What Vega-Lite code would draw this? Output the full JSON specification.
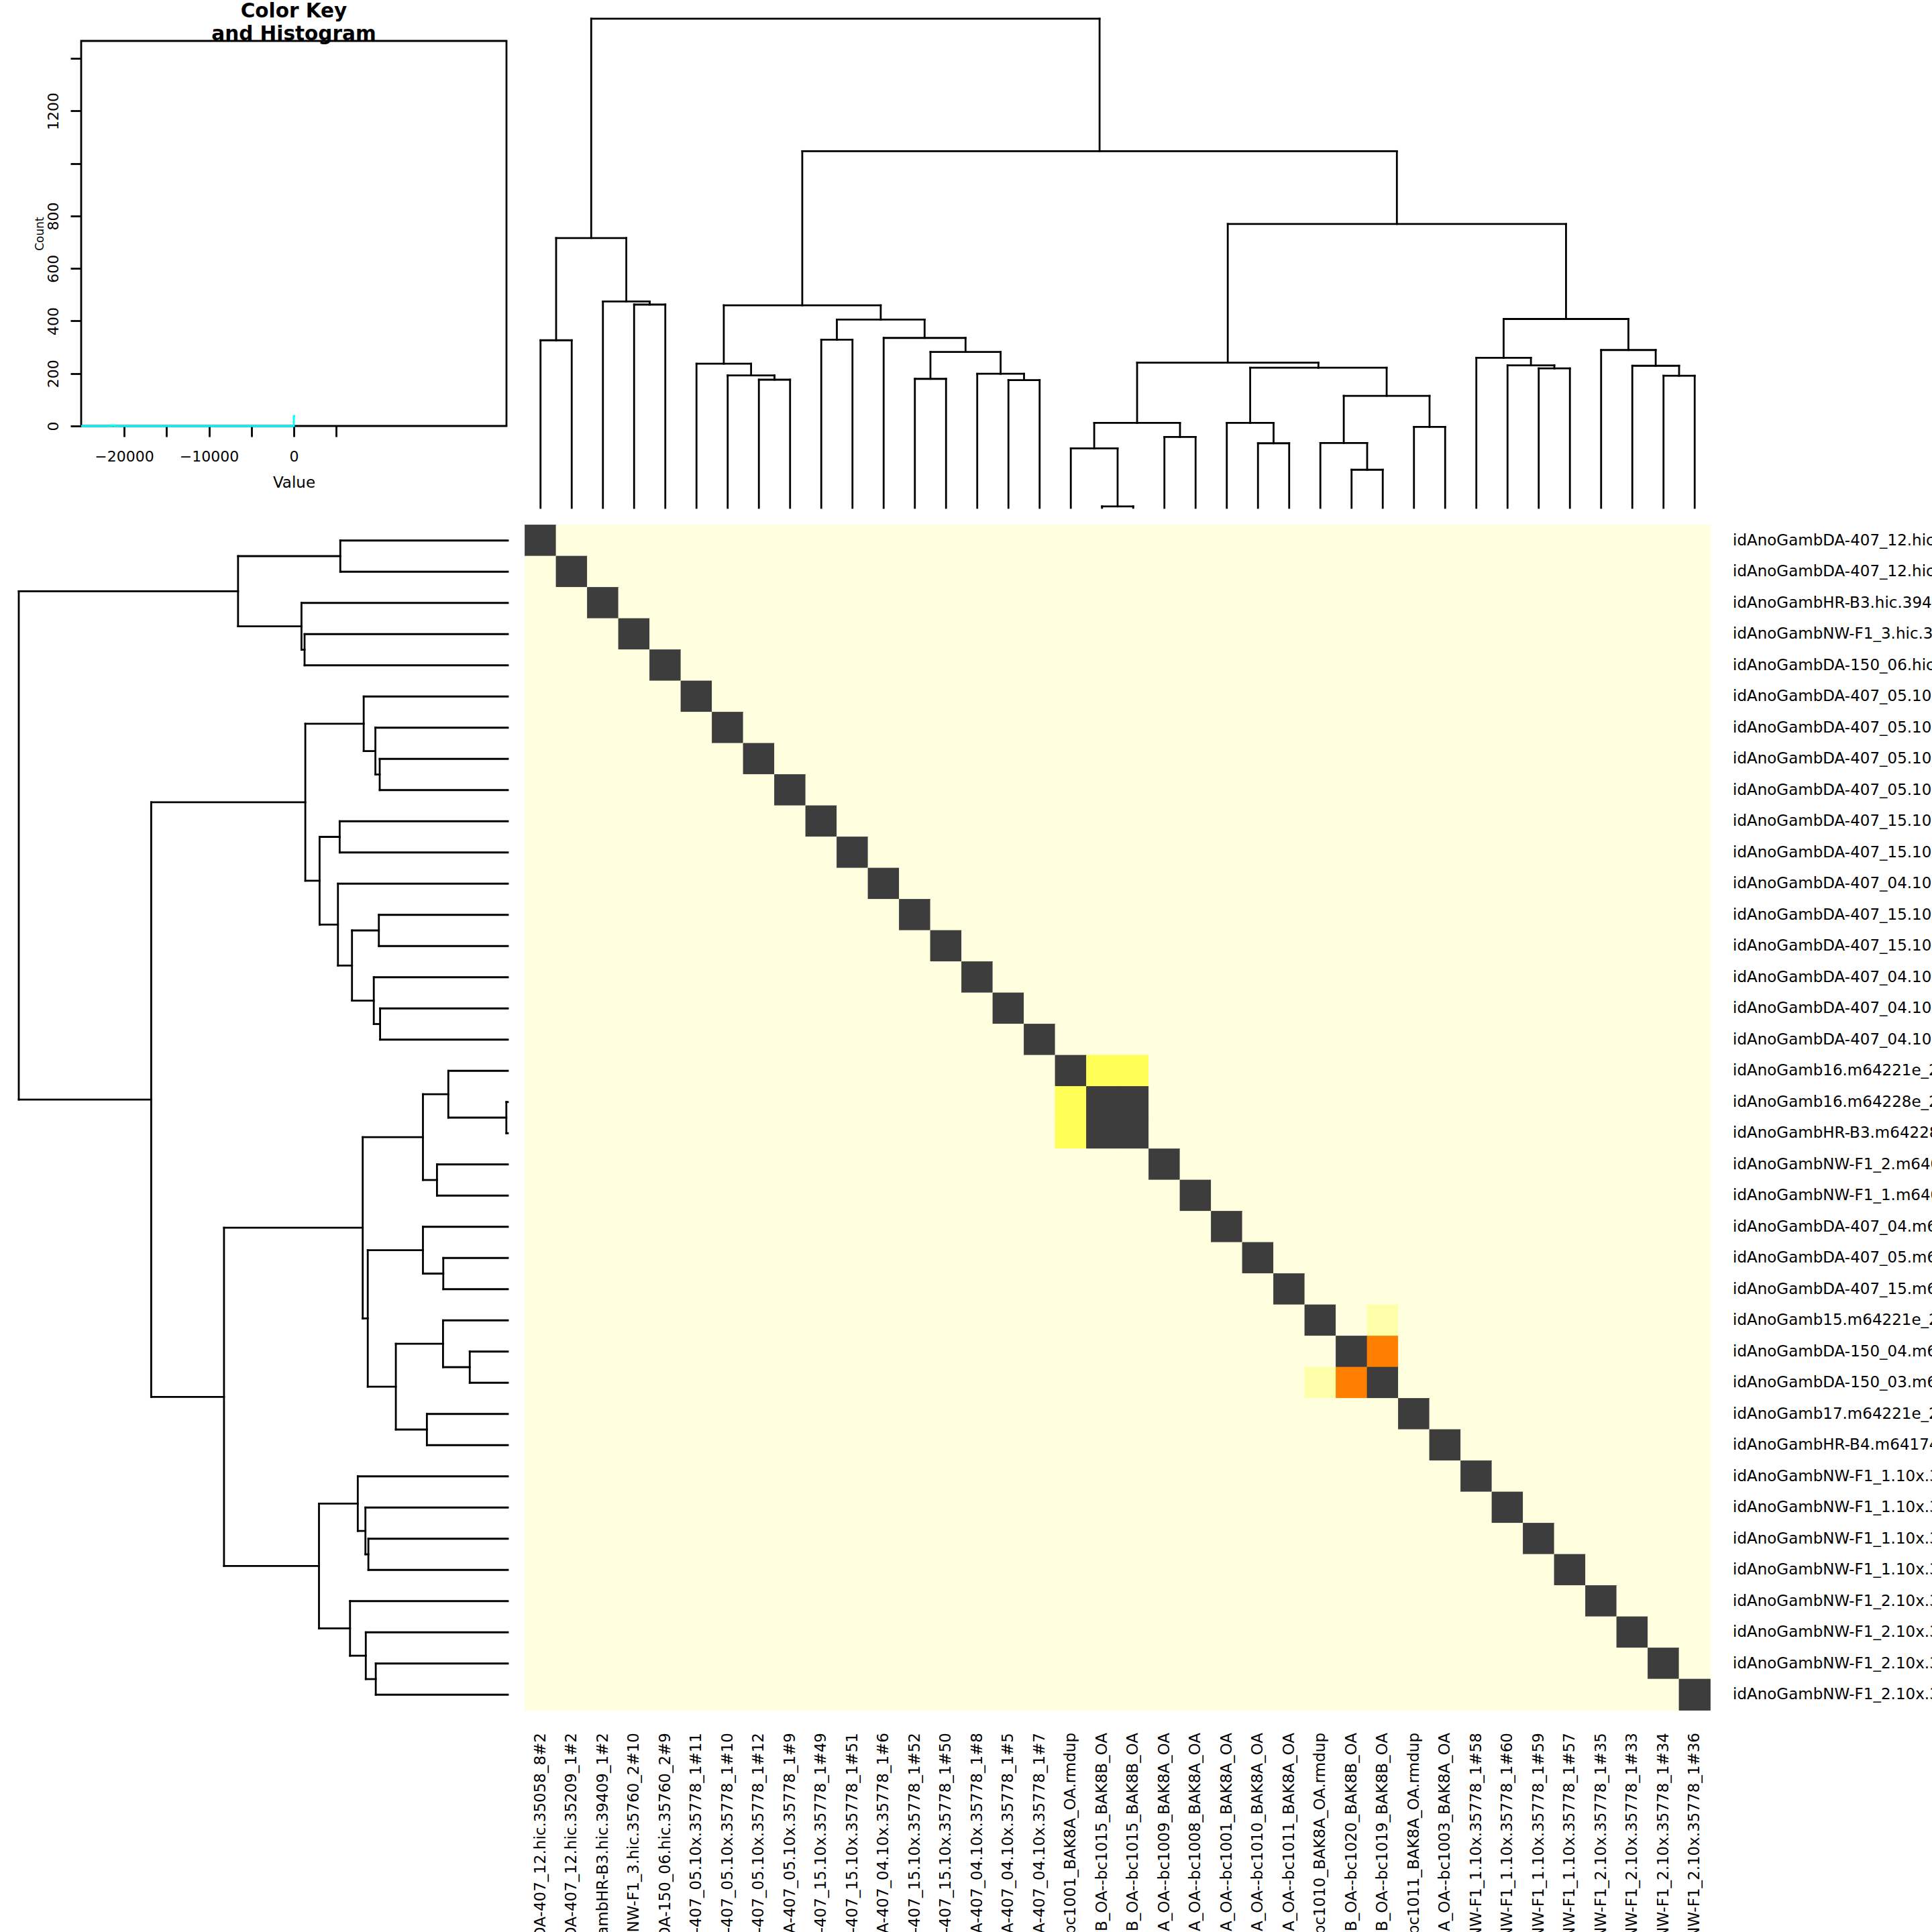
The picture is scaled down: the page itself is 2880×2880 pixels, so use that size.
{
"$schema":"https://vega.github.io/schema/vega-lite/v6.json",
"background":"white",
"padding":{"left":26,"top":0,"right":0,"bottom":0},
"autosize":{"type":"pad"},
"columns":2,
"spacing":{"row":25.5,"column":25.5},
"bounds":"flush",
"align":"each",
"config":{"view":{"stroke":null},"font":"DejaVu Sans","axis":{"labelFont":"DejaVu Sans","titleFont":"DejaVu Sans","labelColor":"black","titleColor":"black","tickColor":"black"},"title":{"font":"DejaVu Sans","color":"black"}},
"datasets":{
"names":[
{"key":"c1","n":1,"name":"idAnoGambDA-407_12.hic.35058_8#2"},
{"key":"c2","n":2,"name":"idAnoGambDA-407_12.hic.35209_1#2"},
{"key":"c3","n":3,"name":"idAnoGambHR-B3.hic.39409_1#2"},
{"key":"c4","n":4,"name":"idAnoGambNW-F1_3.hic.35760_2#10"},
{"key":"c5","n":5,"name":"idAnoGambDA-150_06.hic.35760_2#9"},
{"key":"c6","n":6,"name":"idAnoGambDA-407_05.10x.35778_1#11"},
{"key":"c7","n":7,"name":"idAnoGambDA-407_05.10x.35778_1#10"},
{"key":"c8","n":8,"name":"idAnoGambDA-407_05.10x.35778_1#12"},
{"key":"c9","n":9,"name":"idAnoGambDA-407_05.10x.35778_1#9"},
{"key":"c10","n":10,"name":"idAnoGambDA-407_15.10x.35778_1#49"},
{"key":"c11","n":11,"name":"idAnoGambDA-407_15.10x.35778_1#51"},
{"key":"c12","n":12,"name":"idAnoGambDA-407_04.10x.35778_1#6"},
{"key":"c13","n":13,"name":"idAnoGambDA-407_15.10x.35778_1#52"},
{"key":"c14","n":14,"name":"idAnoGambDA-407_15.10x.35778_1#50"},
{"key":"c15","n":15,"name":"idAnoGambDA-407_04.10x.35778_1#8"},
{"key":"c16","n":16,"name":"idAnoGambDA-407_04.10x.35778_1#5"},
{"key":"c17","n":17,"name":"idAnoGambDA-407_04.10x.35778_1#7"},
{"key":"c18","n":18,"name":"idAnoGamb16.m64221e_220508_094517.bc1001_BAK8A_OA.rmdup"},
{"key":"c19","n":19,"name":"idAnoGamb16.m64228e_220612_083415.bc1015_BAK8B_OA--bc1015_BAK8B_OA"},
{"key":"c20","n":20,"name":"idAnoGambHR-B3.m64228e_220612_083415.bc1015_BAK8B_OA--bc1015_BAK8B_OA"},
{"key":"c21","n":21,"name":"idAnoGambNW-F1_2.m64089e_220301_101010.bc1009_BAK8A_OA--bc1009_BAK8A_OA"},
{"key":"c22","n":22,"name":"idAnoGambNW-F1_1.m64089e_220301_101010.bc1008_BAK8A_OA--bc1008_BAK8A_OA"},
{"key":"c23","n":23,"name":"idAnoGambDA-407_04.m64221e_211223_174129.bc1001_BAK8A_OA--bc1001_BAK8A_OA"},
{"key":"c24","n":24,"name":"idAnoGambDA-407_05.m64221e_211223_174129.bc1010_BAK8A_OA--bc1010_BAK8A_OA"},
{"key":"c25","n":25,"name":"idAnoGambDA-407_15.m64221e_211223_174129.bc1011_BAK8A_OA--bc1011_BAK8A_OA"},
{"key":"c26","n":26,"name":"idAnoGamb15.m64221e_220508_094517.bc1010_BAK8A_OA.rmdup"},
{"key":"c27","n":27,"name":"idAnoGambDA-150_04.m64228e_220612_083415.bc1020_BAK8B_OA--bc1020_BAK8B_OA"},
{"key":"c28","n":28,"name":"idAnoGambDA-150_03.m64228e_220612_083415.bc1019_BAK8B_OA--bc1019_BAK8B_OA"},
{"key":"c29","n":29,"name":"idAnoGamb17.m64221e_220508_094517.bc1011_BAK8A_OA.rmdup"},
{"key":"c30","n":30,"name":"idAnoGambHR-B4.m64174e_220110_112233.bc1003_BAK8A_OA--bc1003_BAK8A_OA"},
{"key":"c31","n":31,"name":"idAnoGambNW-F1_1.10x.35778_1#58"},
{"key":"c32","n":32,"name":"idAnoGambNW-F1_1.10x.35778_1#60"},
{"key":"c33","n":33,"name":"idAnoGambNW-F1_1.10x.35778_1#59"},
{"key":"c34","n":34,"name":"idAnoGambNW-F1_1.10x.35778_1#57"},
{"key":"c35","n":35,"name":"idAnoGambNW-F1_2.10x.35778_1#35"},
{"key":"c36","n":36,"name":"idAnoGambNW-F1_2.10x.35778_1#33"},
{"key":"c37","n":37,"name":"idAnoGambNW-F1_2.10x.35778_1#34"},
{"key":"c38","n":38,"name":"idAnoGambNW-F1_2.10x.35778_1#36"}
],
"matrix":[
{"rk":"c1","c1":"d","c2":"b","c3":"b","c4":"b","c5":"b","c6":"b","c7":"b","c8":"b","c9":"b","c10":"b","c11":"b","c12":"b","c13":"b","c14":"b","c15":"b","c16":"b","c17":"b","c18":"b","c19":"b","c20":"b","c21":"b","c22":"b","c23":"b","c24":"b","c25":"b","c26":"b","c27":"b","c28":"b","c29":"b","c30":"b","c31":"b","c32":"b","c33":"b","c34":"b","c35":"b","c36":"b","c37":"b","c38":"b"},
{"rk":"c2","c1":"b","c2":"d","c3":"b","c4":"b","c5":"b","c6":"b","c7":"b","c8":"b","c9":"b","c10":"b","c11":"b","c12":"b","c13":"b","c14":"b","c15":"b","c16":"b","c17":"b","c18":"b","c19":"b","c20":"b","c21":"b","c22":"b","c23":"b","c24":"b","c25":"b","c26":"b","c27":"b","c28":"b","c29":"b","c30":"b","c31":"b","c32":"b","c33":"b","c34":"b","c35":"b","c36":"b","c37":"b","c38":"b"},
{"rk":"c3","c1":"b","c2":"b","c3":"d","c4":"b","c5":"b","c6":"b","c7":"b","c8":"b","c9":"b","c10":"b","c11":"b","c12":"b","c13":"b","c14":"b","c15":"b","c16":"b","c17":"b","c18":"b","c19":"b","c20":"b","c21":"b","c22":"b","c23":"b","c24":"b","c25":"b","c26":"b","c27":"b","c28":"b","c29":"b","c30":"b","c31":"b","c32":"b","c33":"b","c34":"b","c35":"b","c36":"b","c37":"b","c38":"b"},
{"rk":"c4","c1":"b","c2":"b","c3":"b","c4":"d","c5":"b","c6":"b","c7":"b","c8":"b","c9":"b","c10":"b","c11":"b","c12":"b","c13":"b","c14":"b","c15":"b","c16":"b","c17":"b","c18":"b","c19":"b","c20":"b","c21":"b","c22":"b","c23":"b","c24":"b","c25":"b","c26":"b","c27":"b","c28":"b","c29":"b","c30":"b","c31":"b","c32":"b","c33":"b","c34":"b","c35":"b","c36":"b","c37":"b","c38":"b"},
{"rk":"c5","c1":"b","c2":"b","c3":"b","c4":"b","c5":"d","c6":"b","c7":"b","c8":"b","c9":"b","c10":"b","c11":"b","c12":"b","c13":"b","c14":"b","c15":"b","c16":"b","c17":"b","c18":"b","c19":"b","c20":"b","c21":"b","c22":"b","c23":"b","c24":"b","c25":"b","c26":"b","c27":"b","c28":"b","c29":"b","c30":"b","c31":"b","c32":"b","c33":"b","c34":"b","c35":"b","c36":"b","c37":"b","c38":"b"},
{"rk":"c6","c1":"b","c2":"b","c3":"b","c4":"b","c5":"b","c6":"d","c7":"b","c8":"b","c9":"b","c10":"b","c11":"b","c12":"b","c13":"b","c14":"b","c15":"b","c16":"b","c17":"b","c18":"b","c19":"b","c20":"b","c21":"b","c22":"b","c23":"b","c24":"b","c25":"b","c26":"b","c27":"b","c28":"b","c29":"b","c30":"b","c31":"b","c32":"b","c33":"b","c34":"b","c35":"b","c36":"b","c37":"b","c38":"b"},
{"rk":"c7","c1":"b","c2":"b","c3":"b","c4":"b","c5":"b","c6":"b","c7":"d","c8":"b","c9":"b","c10":"b","c11":"b","c12":"b","c13":"b","c14":"b","c15":"b","c16":"b","c17":"b","c18":"b","c19":"b","c20":"b","c21":"b","c22":"b","c23":"b","c24":"b","c25":"b","c26":"b","c27":"b","c28":"b","c29":"b","c30":"b","c31":"b","c32":"b","c33":"b","c34":"b","c35":"b","c36":"b","c37":"b","c38":"b"},
{"rk":"c8","c1":"b","c2":"b","c3":"b","c4":"b","c5":"b","c6":"b","c7":"b","c8":"d","c9":"b","c10":"b","c11":"b","c12":"b","c13":"b","c14":"b","c15":"b","c16":"b","c17":"b","c18":"b","c19":"b","c20":"b","c21":"b","c22":"b","c23":"b","c24":"b","c25":"b","c26":"b","c27":"b","c28":"b","c29":"b","c30":"b","c31":"b","c32":"b","c33":"b","c34":"b","c35":"b","c36":"b","c37":"b","c38":"b"},
{"rk":"c9","c1":"b","c2":"b","c3":"b","c4":"b","c5":"b","c6":"b","c7":"b","c8":"b","c9":"d","c10":"b","c11":"b","c12":"b","c13":"b","c14":"b","c15":"b","c16":"b","c17":"b","c18":"b","c19":"b","c20":"b","c21":"b","c22":"b","c23":"b","c24":"b","c25":"b","c26":"b","c27":"b","c28":"b","c29":"b","c30":"b","c31":"b","c32":"b","c33":"b","c34":"b","c35":"b","c36":"b","c37":"b","c38":"b"},
{"rk":"c10","c1":"b","c2":"b","c3":"b","c4":"b","c5":"b","c6":"b","c7":"b","c8":"b","c9":"b","c10":"d","c11":"b","c12":"b","c13":"b","c14":"b","c15":"b","c16":"b","c17":"b","c18":"b","c19":"b","c20":"b","c21":"b","c22":"b","c23":"b","c24":"b","c25":"b","c26":"b","c27":"b","c28":"b","c29":"b","c30":"b","c31":"b","c32":"b","c33":"b","c34":"b","c35":"b","c36":"b","c37":"b","c38":"b"},
{"rk":"c11","c1":"b","c2":"b","c3":"b","c4":"b","c5":"b","c6":"b","c7":"b","c8":"b","c9":"b","c10":"b","c11":"d","c12":"b","c13":"b","c14":"b","c15":"b","c16":"b","c17":"b","c18":"b","c19":"b","c20":"b","c21":"b","c22":"b","c23":"b","c24":"b","c25":"b","c26":"b","c27":"b","c28":"b","c29":"b","c30":"b","c31":"b","c32":"b","c33":"b","c34":"b","c35":"b","c36":"b","c37":"b","c38":"b"},
{"rk":"c12","c1":"b","c2":"b","c3":"b","c4":"b","c5":"b","c6":"b","c7":"b","c8":"b","c9":"b","c10":"b","c11":"b","c12":"d","c13":"b","c14":"b","c15":"b","c16":"b","c17":"b","c18":"b","c19":"b","c20":"b","c21":"b","c22":"b","c23":"b","c24":"b","c25":"b","c26":"b","c27":"b","c28":"b","c29":"b","c30":"b","c31":"b","c32":"b","c33":"b","c34":"b","c35":"b","c36":"b","c37":"b","c38":"b"},
{"rk":"c13","c1":"b","c2":"b","c3":"b","c4":"b","c5":"b","c6":"b","c7":"b","c8":"b","c9":"b","c10":"b","c11":"b","c12":"b","c13":"d","c14":"b","c15":"b","c16":"b","c17":"b","c18":"b","c19":"b","c20":"b","c21":"b","c22":"b","c23":"b","c24":"b","c25":"b","c26":"b","c27":"b","c28":"b","c29":"b","c30":"b","c31":"b","c32":"b","c33":"b","c34":"b","c35":"b","c36":"b","c37":"b","c38":"b"},
{"rk":"c14","c1":"b","c2":"b","c3":"b","c4":"b","c5":"b","c6":"b","c7":"b","c8":"b","c9":"b","c10":"b","c11":"b","c12":"b","c13":"b","c14":"d","c15":"b","c16":"b","c17":"b","c18":"b","c19":"b","c20":"b","c21":"b","c22":"b","c23":"b","c24":"b","c25":"b","c26":"b","c27":"b","c28":"b","c29":"b","c30":"b","c31":"b","c32":"b","c33":"b","c34":"b","c35":"b","c36":"b","c37":"b","c38":"b"},
{"rk":"c15","c1":"b","c2":"b","c3":"b","c4":"b","c5":"b","c6":"b","c7":"b","c8":"b","c9":"b","c10":"b","c11":"b","c12":"b","c13":"b","c14":"b","c15":"d","c16":"b","c17":"b","c18":"b","c19":"b","c20":"b","c21":"b","c22":"b","c23":"b","c24":"b","c25":"b","c26":"b","c27":"b","c28":"b","c29":"b","c30":"b","c31":"b","c32":"b","c33":"b","c34":"b","c35":"b","c36":"b","c37":"b","c38":"b"},
{"rk":"c16","c1":"b","c2":"b","c3":"b","c4":"b","c5":"b","c6":"b","c7":"b","c8":"b","c9":"b","c10":"b","c11":"b","c12":"b","c13":"b","c14":"b","c15":"b","c16":"d","c17":"b","c18":"b","c19":"b","c20":"b","c21":"b","c22":"b","c23":"b","c24":"b","c25":"b","c26":"b","c27":"b","c28":"b","c29":"b","c30":"b","c31":"b","c32":"b","c33":"b","c34":"b","c35":"b","c36":"b","c37":"b","c38":"b"},
{"rk":"c17","c1":"b","c2":"b","c3":"b","c4":"b","c5":"b","c6":"b","c7":"b","c8":"b","c9":"b","c10":"b","c11":"b","c12":"b","c13":"b","c14":"b","c15":"b","c16":"b","c17":"d","c18":"b","c19":"b","c20":"b","c21":"b","c22":"b","c23":"b","c24":"b","c25":"b","c26":"b","c27":"b","c28":"b","c29":"b","c30":"b","c31":"b","c32":"b","c33":"b","c34":"b","c35":"b","c36":"b","c37":"b","c38":"b"},
{"rk":"c18","c1":"b","c2":"b","c3":"b","c4":"b","c5":"b","c6":"b","c7":"b","c8":"b","c9":"b","c10":"b","c11":"b","c12":"b","c13":"b","c14":"b","c15":"b","c16":"b","c17":"b","c18":"d","c19":"y","c20":"y","c21":"b","c22":"b","c23":"b","c24":"b","c25":"b","c26":"b","c27":"b","c28":"b","c29":"b","c30":"b","c31":"b","c32":"b","c33":"b","c34":"b","c35":"b","c36":"b","c37":"b","c38":"b"},
{"rk":"c19","c1":"b","c2":"b","c3":"b","c4":"b","c5":"b","c6":"b","c7":"b","c8":"b","c9":"b","c10":"b","c11":"b","c12":"b","c13":"b","c14":"b","c15":"b","c16":"b","c17":"b","c18":"y","c19":"d","c20":"d","c21":"b","c22":"b","c23":"b","c24":"b","c25":"b","c26":"b","c27":"b","c28":"b","c29":"b","c30":"b","c31":"b","c32":"b","c33":"b","c34":"b","c35":"b","c36":"b","c37":"b","c38":"b"},
{"rk":"c20","c1":"b","c2":"b","c3":"b","c4":"b","c5":"b","c6":"b","c7":"b","c8":"b","c9":"b","c10":"b","c11":"b","c12":"b","c13":"b","c14":"b","c15":"b","c16":"b","c17":"b","c18":"y","c19":"d","c20":"d","c21":"b","c22":"b","c23":"b","c24":"b","c25":"b","c26":"b","c27":"b","c28":"b","c29":"b","c30":"b","c31":"b","c32":"b","c33":"b","c34":"b","c35":"b","c36":"b","c37":"b","c38":"b"},
{"rk":"c21","c1":"b","c2":"b","c3":"b","c4":"b","c5":"b","c6":"b","c7":"b","c8":"b","c9":"b","c10":"b","c11":"b","c12":"b","c13":"b","c14":"b","c15":"b","c16":"b","c17":"b","c18":"b","c19":"b","c20":"b","c21":"d","c22":"b","c23":"b","c24":"b","c25":"b","c26":"b","c27":"b","c28":"b","c29":"b","c30":"b","c31":"b","c32":"b","c33":"b","c34":"b","c35":"b","c36":"b","c37":"b","c38":"b"},
{"rk":"c22","c1":"b","c2":"b","c3":"b","c4":"b","c5":"b","c6":"b","c7":"b","c8":"b","c9":"b","c10":"b","c11":"b","c12":"b","c13":"b","c14":"b","c15":"b","c16":"b","c17":"b","c18":"b","c19":"b","c20":"b","c21":"b","c22":"d","c23":"b","c24":"b","c25":"b","c26":"b","c27":"b","c28":"b","c29":"b","c30":"b","c31":"b","c32":"b","c33":"b","c34":"b","c35":"b","c36":"b","c37":"b","c38":"b"},
{"rk":"c23","c1":"b","c2":"b","c3":"b","c4":"b","c5":"b","c6":"b","c7":"b","c8":"b","c9":"b","c10":"b","c11":"b","c12":"b","c13":"b","c14":"b","c15":"b","c16":"b","c17":"b","c18":"b","c19":"b","c20":"b","c21":"b","c22":"b","c23":"d","c24":"b","c25":"b","c26":"b","c27":"b","c28":"b","c29":"b","c30":"b","c31":"b","c32":"b","c33":"b","c34":"b","c35":"b","c36":"b","c37":"b","c38":"b"},
{"rk":"c24","c1":"b","c2":"b","c3":"b","c4":"b","c5":"b","c6":"b","c7":"b","c8":"b","c9":"b","c10":"b","c11":"b","c12":"b","c13":"b","c14":"b","c15":"b","c16":"b","c17":"b","c18":"b","c19":"b","c20":"b","c21":"b","c22":"b","c23":"b","c24":"d","c25":"b","c26":"b","c27":"b","c28":"b","c29":"b","c30":"b","c31":"b","c32":"b","c33":"b","c34":"b","c35":"b","c36":"b","c37":"b","c38":"b"},
{"rk":"c25","c1":"b","c2":"b","c3":"b","c4":"b","c5":"b","c6":"b","c7":"b","c8":"b","c9":"b","c10":"b","c11":"b","c12":"b","c13":"b","c14":"b","c15":"b","c16":"b","c17":"b","c18":"b","c19":"b","c20":"b","c21":"b","c22":"b","c23":"b","c24":"b","c25":"d","c26":"b","c27":"b","c28":"b","c29":"b","c30":"b","c31":"b","c32":"b","c33":"b","c34":"b","c35":"b","c36":"b","c37":"b","c38":"b"},
{"rk":"c26","c1":"b","c2":"b","c3":"b","c4":"b","c5":"b","c6":"b","c7":"b","c8":"b","c9":"b","c10":"b","c11":"b","c12":"b","c13":"b","c14":"b","c15":"b","c16":"b","c17":"b","c18":"b","c19":"b","c20":"b","c21":"b","c22":"b","c23":"b","c24":"b","c25":"b","c26":"d","c27":"b","c28":"p","c29":"b","c30":"b","c31":"b","c32":"b","c33":"b","c34":"b","c35":"b","c36":"b","c37":"b","c38":"b"},
{"rk":"c27","c1":"b","c2":"b","c3":"b","c4":"b","c5":"b","c6":"b","c7":"b","c8":"b","c9":"b","c10":"b","c11":"b","c12":"b","c13":"b","c14":"b","c15":"b","c16":"b","c17":"b","c18":"b","c19":"b","c20":"b","c21":"b","c22":"b","c23":"b","c24":"b","c25":"b","c26":"b","c27":"d","c28":"o","c29":"b","c30":"b","c31":"b","c32":"b","c33":"b","c34":"b","c35":"b","c36":"b","c37":"b","c38":"b"},
{"rk":"c28","c1":"b","c2":"b","c3":"b","c4":"b","c5":"b","c6":"b","c7":"b","c8":"b","c9":"b","c10":"b","c11":"b","c12":"b","c13":"b","c14":"b","c15":"b","c16":"b","c17":"b","c18":"b","c19":"b","c20":"b","c21":"b","c22":"b","c23":"b","c24":"b","c25":"b","c26":"p","c27":"o","c28":"d","c29":"b","c30":"b","c31":"b","c32":"b","c33":"b","c34":"b","c35":"b","c36":"b","c37":"b","c38":"b"},
{"rk":"c29","c1":"b","c2":"b","c3":"b","c4":"b","c5":"b","c6":"b","c7":"b","c8":"b","c9":"b","c10":"b","c11":"b","c12":"b","c13":"b","c14":"b","c15":"b","c16":"b","c17":"b","c18":"b","c19":"b","c20":"b","c21":"b","c22":"b","c23":"b","c24":"b","c25":"b","c26":"b","c27":"b","c28":"b","c29":"d","c30":"b","c31":"b","c32":"b","c33":"b","c34":"b","c35":"b","c36":"b","c37":"b","c38":"b"},
{"rk":"c30","c1":"b","c2":"b","c3":"b","c4":"b","c5":"b","c6":"b","c7":"b","c8":"b","c9":"b","c10":"b","c11":"b","c12":"b","c13":"b","c14":"b","c15":"b","c16":"b","c17":"b","c18":"b","c19":"b","c20":"b","c21":"b","c22":"b","c23":"b","c24":"b","c25":"b","c26":"b","c27":"b","c28":"b","c29":"b","c30":"d","c31":"b","c32":"b","c33":"b","c34":"b","c35":"b","c36":"b","c37":"b","c38":"b"},
{"rk":"c31","c1":"b","c2":"b","c3":"b","c4":"b","c5":"b","c6":"b","c7":"b","c8":"b","c9":"b","c10":"b","c11":"b","c12":"b","c13":"b","c14":"b","c15":"b","c16":"b","c17":"b","c18":"b","c19":"b","c20":"b","c21":"b","c22":"b","c23":"b","c24":"b","c25":"b","c26":"b","c27":"b","c28":"b","c29":"b","c30":"b","c31":"d","c32":"b","c33":"b","c34":"b","c35":"b","c36":"b","c37":"b","c38":"b"},
{"rk":"c32","c1":"b","c2":"b","c3":"b","c4":"b","c5":"b","c6":"b","c7":"b","c8":"b","c9":"b","c10":"b","c11":"b","c12":"b","c13":"b","c14":"b","c15":"b","c16":"b","c17":"b","c18":"b","c19":"b","c20":"b","c21":"b","c22":"b","c23":"b","c24":"b","c25":"b","c26":"b","c27":"b","c28":"b","c29":"b","c30":"b","c31":"b","c32":"d","c33":"b","c34":"b","c35":"b","c36":"b","c37":"b","c38":"b"},
{"rk":"c33","c1":"b","c2":"b","c3":"b","c4":"b","c5":"b","c6":"b","c7":"b","c8":"b","c9":"b","c10":"b","c11":"b","c12":"b","c13":"b","c14":"b","c15":"b","c16":"b","c17":"b","c18":"b","c19":"b","c20":"b","c21":"b","c22":"b","c23":"b","c24":"b","c25":"b","c26":"b","c27":"b","c28":"b","c29":"b","c30":"b","c31":"b","c32":"b","c33":"d","c34":"b","c35":"b","c36":"b","c37":"b","c38":"b"},
{"rk":"c34","c1":"b","c2":"b","c3":"b","c4":"b","c5":"b","c6":"b","c7":"b","c8":"b","c9":"b","c10":"b","c11":"b","c12":"b","c13":"b","c14":"b","c15":"b","c16":"b","c17":"b","c18":"b","c19":"b","c20":"b","c21":"b","c22":"b","c23":"b","c24":"b","c25":"b","c26":"b","c27":"b","c28":"b","c29":"b","c30":"b","c31":"b","c32":"b","c33":"b","c34":"d","c35":"b","c36":"b","c37":"b","c38":"b"},
{"rk":"c35","c1":"b","c2":"b","c3":"b","c4":"b","c5":"b","c6":"b","c7":"b","c8":"b","c9":"b","c10":"b","c11":"b","c12":"b","c13":"b","c14":"b","c15":"b","c16":"b","c17":"b","c18":"b","c19":"b","c20":"b","c21":"b","c22":"b","c23":"b","c24":"b","c25":"b","c26":"b","c27":"b","c28":"b","c29":"b","c30":"b","c31":"b","c32":"b","c33":"b","c34":"b","c35":"d","c36":"b","c37":"b","c38":"b"},
{"rk":"c36","c1":"b","c2":"b","c3":"b","c4":"b","c5":"b","c6":"b","c7":"b","c8":"b","c9":"b","c10":"b","c11":"b","c12":"b","c13":"b","c14":"b","c15":"b","c16":"b","c17":"b","c18":"b","c19":"b","c20":"b","c21":"b","c22":"b","c23":"b","c24":"b","c25":"b","c26":"b","c27":"b","c28":"b","c29":"b","c30":"b","c31":"b","c32":"b","c33":"b","c34":"b","c35":"b","c36":"d","c37":"b","c38":"b"},
{"rk":"c37","c1":"b","c2":"b","c3":"b","c4":"b","c5":"b","c6":"b","c7":"b","c8":"b","c9":"b","c10":"b","c11":"b","c12":"b","c13":"b","c14":"b","c15":"b","c16":"b","c17":"b","c18":"b","c19":"b","c20":"b","c21":"b","c22":"b","c23":"b","c24":"b","c25":"b","c26":"b","c27":"b","c28":"b","c29":"b","c30":"b","c31":"b","c32":"b","c33":"b","c34":"b","c35":"b","c36":"b","c37":"d","c38":"b"},
{"rk":"c38","c1":"b","c2":"b","c3":"b","c4":"b","c5":"b","c6":"b","c7":"b","c8":"b","c9":"b","c10":"b","c11":"b","c12":"b","c13":"b","c14":"b","c15":"b","c16":"b","c17":"b","c18":"b","c19":"b","c20":"b","c21":"b","c22":"b","c23":"b","c24":"b","c25":"b","c26":"b","c27":"b","c28":"b","c29":"b","c30":"b","c31":"b","c32":"b","c33":"b","c34":"b","c35":"b","c36":"b","c37":"b","c38":"d"}
],
"dendro":[
{"p1":1,"p2":2,"h1":136,"h2":136},{"p1":1,"p2":1,"h1":0,"h2":136},{"p1":2,"p2":2,"h1":0,"h2":136},
{"p1":4,"p2":5,"h1":165,"h2":165},{"p1":4,"p2":4,"h1":0,"h2":165},{"p1":5,"p2":5,"h1":0,"h2":165},
{"p1":3,"p2":4.5,"h1":167.5,"h2":167.5},{"p1":3,"p2":3,"h1":0,"h2":167.5},{"p1":4.5,"p2":4.5,"h1":165,"h2":167.5},
{"p1":1.5,"p2":3.75,"h1":219,"h2":219},{"p1":1.5,"p2":1.5,"h1":136,"h2":219},{"p1":3.75,"p2":3.75,"h1":167.5,"h2":219},
{"p1":8,"p2":9,"h1":104,"h2":104},{"p1":8,"p2":8,"h1":0,"h2":104},{"p1":9,"p2":9,"h1":0,"h2":104},
{"p1":7,"p2":8.5,"h1":107.5,"h2":107.5},{"p1":7,"p2":7,"h1":0,"h2":107.5},{"p1":8.5,"p2":8.5,"h1":104,"h2":107.5},
{"p1":6,"p2":7.75,"h1":117,"h2":117},{"p1":6,"p2":6,"h1":0,"h2":117},{"p1":7.75,"p2":7.75,"h1":107.5,"h2":117},
{"p1":10,"p2":11,"h1":136.5,"h2":136.5},{"p1":10,"p2":10,"h1":0,"h2":136.5},{"p1":11,"p2":11,"h1":0,"h2":136.5},
{"p1":13,"p2":14,"h1":104.7,"h2":104.7},{"p1":13,"p2":13,"h1":0,"h2":104.7},{"p1":14,"p2":14,"h1":0,"h2":104.7},
{"p1":16,"p2":17,"h1":103.7,"h2":103.7},{"p1":16,"p2":16,"h1":0,"h2":103.7},{"p1":17,"p2":17,"h1":0,"h2":103.7},
{"p1":15,"p2":16.5,"h1":108.8,"h2":108.8},{"p1":15,"p2":15,"h1":0,"h2":108.8},{"p1":16.5,"p2":16.5,"h1":103.7,"h2":108.8},
{"p1":13.5,"p2":15.75,"h1":126.5,"h2":126.5},{"p1":13.5,"p2":13.5,"h1":104.7,"h2":126.5},{"p1":15.75,"p2":15.75,"h1":108.8,"h2":126.5},
{"p1":12,"p2":14.625,"h1":137.9,"h2":137.9},{"p1":12,"p2":12,"h1":0,"h2":137.9},{"p1":14.625,"p2":14.625,"h1":126.5,"h2":137.9},
{"p1":10.5,"p2":13.3125,"h1":152.8,"h2":152.8},{"p1":10.5,"p2":10.5,"h1":136.5,"h2":152.8},{"p1":13.3125,"p2":13.3125,"h1":137.9,"h2":152.8},
{"p1":6.875,"p2":11.90625,"h1":164.4,"h2":164.4},{"p1":6.875,"p2":6.875,"h1":117,"h2":164.4},{"p1":11.90625,"p2":11.90625,"h1":152.8,"h2":164.4},
{"p1":19,"p2":20,"h1":1.2,"h2":1.2},{"p1":19,"p2":19,"h1":0,"h2":1.2},{"p1":20,"p2":20,"h1":0,"h2":1.2},
{"p1":18,"p2":19.5,"h1":48.3,"h2":48.3},{"p1":18,"p2":18,"h1":0,"h2":48.3},{"p1":19.5,"p2":19.5,"h1":1.2,"h2":48.3},
{"p1":21,"p2":22,"h1":57.5,"h2":57.5},{"p1":21,"p2":21,"h1":0,"h2":57.5},{"p1":22,"p2":22,"h1":0,"h2":57.5},
{"p1":18.75,"p2":21.5,"h1":68.9,"h2":68.9},{"p1":18.75,"p2":18.75,"h1":48.3,"h2":68.9},{"p1":21.5,"p2":21.5,"h1":57.5,"h2":68.9},
{"p1":24,"p2":25,"h1":52.4,"h2":52.4},{"p1":24,"p2":24,"h1":0,"h2":52.4},{"p1":25,"p2":25,"h1":0,"h2":52.4},
{"p1":23,"p2":24.5,"h1":68.9,"h2":68.9},{"p1":23,"p2":23,"h1":0,"h2":68.9},{"p1":24.5,"p2":24.5,"h1":52.4,"h2":68.9},
{"p1":27,"p2":28,"h1":30.9,"h2":30.9},{"p1":27,"p2":27,"h1":0,"h2":30.9},{"p1":28,"p2":28,"h1":0,"h2":30.9},
{"p1":26,"p2":27.5,"h1":52.6,"h2":52.6},{"p1":26,"p2":26,"h1":0,"h2":52.6},{"p1":27.5,"p2":27.5,"h1":30.9,"h2":52.6},
{"p1":29,"p2":30,"h1":65.7,"h2":65.7},{"p1":29,"p2":29,"h1":0,"h2":65.7},{"p1":30,"p2":30,"h1":0,"h2":65.7},
{"p1":26.75,"p2":29.5,"h1":90.9,"h2":90.9},{"p1":26.75,"p2":26.75,"h1":52.6,"h2":90.9},{"p1":29.5,"p2":29.5,"h1":65.7,"h2":90.9},
{"p1":23.75,"p2":28.125,"h1":113.7,"h2":113.7},{"p1":23.75,"p2":23.75,"h1":68.9,"h2":113.7},{"p1":28.125,"p2":28.125,"h1":90.9,"h2":113.7},
{"p1":20.125,"p2":25.9375,"h1":117.8,"h2":117.8},{"p1":20.125,"p2":20.125,"h1":68.9,"h2":117.8},{"p1":25.9375,"p2":25.9375,"h1":113.7,"h2":117.8},
{"p1":33,"p2":34,"h1":113.2,"h2":113.2},{"p1":33,"p2":33,"h1":0,"h2":113.2},{"p1":34,"p2":34,"h1":0,"h2":113.2},
{"p1":32,"p2":33.5,"h1":115.6,"h2":115.6},{"p1":32,"p2":32,"h1":0,"h2":115.6},{"p1":33.5,"p2":33.5,"h1":113.2,"h2":115.6},
{"p1":31,"p2":32.75,"h1":121.8,"h2":121.8},{"p1":31,"p2":31,"h1":0,"h2":121.8},{"p1":32.75,"p2":32.75,"h1":115.6,"h2":121.8},
{"p1":37,"p2":38,"h1":107.2,"h2":107.2},{"p1":37,"p2":37,"h1":0,"h2":107.2},{"p1":38,"p2":38,"h1":0,"h2":107.2},
{"p1":36,"p2":37.5,"h1":115.3,"h2":115.3},{"p1":36,"p2":36,"h1":0,"h2":115.3},{"p1":37.5,"p2":37.5,"h1":107.2,"h2":115.3},
{"p1":35,"p2":36.75,"h1":128.1,"h2":128.1},{"p1":35,"p2":35,"h1":0,"h2":128.1},{"p1":36.75,"p2":36.75,"h1":115.3,"h2":128.1},
{"p1":31.875,"p2":35.875,"h1":153.3,"h2":153.3},{"p1":31.875,"p2":31.875,"h1":121.8,"h2":153.3},{"p1":35.875,"p2":35.875,"h1":128.1,"h2":153.3},
{"p1":23.03125,"p2":33.875,"h1":230.4,"h2":230.4},{"p1":23.03125,"p2":23.03125,"h1":117.8,"h2":230.4},{"p1":33.875,"p2":33.875,"h1":153.3,"h2":230.4},
{"p1":9.390625,"p2":28.453125,"h1":289.5,"h2":289.5},{"p1":9.390625,"p2":9.390625,"h1":164.4,"h2":289.5},{"p1":28.453125,"p2":28.453125,"h1":230.4,"h2":289.5},
{"p1":2.625,"p2":18.921875,"h1":397,"h2":397},{"p1":2.625,"p2":2.625,"h1":219,"h2":397},{"p1":18.921875,"p2":18.921875,"h1":289.5,"h2":397}
],
"hist":[
{"v":-25060,"n":0},{"v":-21450,"n":2},{"v":-21200,"n":0},{"v":0,"n":38},{"v":170,"n":38}
]
},
"concat":[
{
"width":634,"height":574,
"view":{"stroke":"black","strokeWidth":2.8},
"title":{"text":["Color Key","and Histogram"],"fontSize":29.5,"fontWeight":"bold","anchor":"middle","frame":"group","baseline":"alphabetic","lineHeight":34,"offset":0,"dy":28,"color":"black"},
"data":{"name":"hist"},
"mark":{"type":"line","interpolate":"step-after","color":"#00FFFF","strokeWidth":2.8},
"encoding":{
"x":{"field":"v","type":"quantitative","scale":{"domain":[-25060,25060],"nice":false,"zero":false},
"axis":{"title":"Value","values":[-20000,-15000,-10000,-5000,0,5000],"format":"d","labelExpr":"datum.value % 10000 == 0 ? datum.label : ''","grid":false,"domain":false,"tickSize":16,"tickWidth":2.8,"tickColor":"black","labelFontSize":22,"labelPadding":36,"labelBaseline":"alphabetic","labelFlush":false,"labelOverlap":false,"labelBound":false,"titleFontSize":23,"titleFontWeight":"normal","titleX":317,"titleY":91,"titleBaseline":"alphabetic","titleAlign":"center"}},
"y":{"field":"n","type":"quantitative","scale":{"domain":[0,1467],"nice":false,"zero":false},
"axis":{"title":"Count","values":[0,200,400,600,800,1000,1200,1400],"format":"d","labelExpr":"(datum.value == 1000 || datum.value == 1400) ? '' : datum.label","grid":false,"domain":false,"tickSize":16,"tickWidth":2.8,"tickColor":"black","labelAngle":270,"labelAlign":"center","labelBaseline":"alphabetic","labelPadding":19,"labelFontSize":22,"labelFlush":false,"labelOverlap":false,"labelBound":false,"titleFontSize":17,"titleFontWeight":"normal","titleAngle":270,"titleX":-57,"titleY":287,"titleAlign":"center","titleBaseline":"alphabetic"}}
}
},
{
"width":1767,"height":696,
"data":{"name":"dendro"},
"mark":{"type":"rule","color":"black","strokeWidth":2.8,"strokeCap":"square"},
"encoding":{
"x":{"field":"p1","type":"quantitative","scale":{"domain":[0.5,38.5],"nice":false,"zero":false},"axis":null},
"x2":{"field":"p2"},
"y":{"field":"h1","type":"quantitative","scale":{"domain":[0,379],"nice":false,"zero":false},"axis":null},
"y2":{"field":"h2"}
}
},
{
"width":636,"height":1767,
"data":{"name":"dendro"},
"mark":{"type":"rule","color":"black","strokeWidth":2.8,"strokeCap":"square"},
"encoding":{
"y":{"field":"p1","type":"quantitative","scale":{"domain":[0.5,38.5],"nice":false,"zero":false,"reverse":true},"axis":null},
"y2":{"field":"p2"},
"x":{"field":"h1","type":"quantitative","scale":{"domain":[0,346.35],"nice":false,"zero":false,"reverse":true},"axis":null},
"x2":{"field":"h2"}
}
},
{
"width":1767,"height":1767,
"data":{"name":"matrix"},
"transform":[
{"fold":["c1","c2","c3","c4","c5","c6","c7","c8","c9","c10","c11","c12","c13","c14","c15","c16","c17","c18","c19","c20","c21","c22","c23","c24","c25","c26","c27","c28","c29","c30","c31","c32","c33","c34","c35","c36","c37","c38"],"as":["ck","k"]},
{"lookup":"ck","from":{"data":{"name":"names"},"key":"key","fields":["n","name"]},"as":["cn","cname"]},
{"lookup":"rk","from":{"data":{"name":"names"},"key":"key","fields":["n","name"]},"as":["rn","rname"]}
],
"mark":{"type":"rect","strokeWidth":0.8},
"encoding":{
"x":{"field":"cname","type":"nominal","sort":{"field":"cn","op":"min"},"scale":{"paddingInner":0,"paddingOuter":0},
"axis":{"orient":"bottom","title":null,"ticks":false,"tickSize":0,"domain":false,"labelAngle":270,"labelAlign":"right","labelBaseline":"middle","labelPadding":33,"labelFontSize":23,"labelColor":"black","labelLimit":3000,"labelOverlap":false}},
"y":{"field":"rname","type":"nominal","sort":{"field":"rn","op":"min"},"scale":{"paddingInner":0,"paddingOuter":0},
"axis":{"orient":"right","title":null,"ticks":false,"tickSize":0,"domain":false,"labelAngle":0,"labelAlign":"left","labelBaseline":"middle","labelPadding":33,"labelFontSize":23,"labelColor":"black","labelLimit":3000,"labelOverlap":false}},
"color":{"field":"k","type":"nominal","scale":{"domain":["b","p","y","o","d"],"range":["#FFFFE0","#FFFFAA","#FFFF55","#FF8000","#3D3D3D"]},"legend":null},
"stroke":{"field":"k","type":"nominal","scale":{"domain":["b","p","y","o","d"],"range":["#FFFFE0","#FFFFAA","#FFFF55","#FF8000","#3D3D3D"]},"legend":null}
}
}
]
}
